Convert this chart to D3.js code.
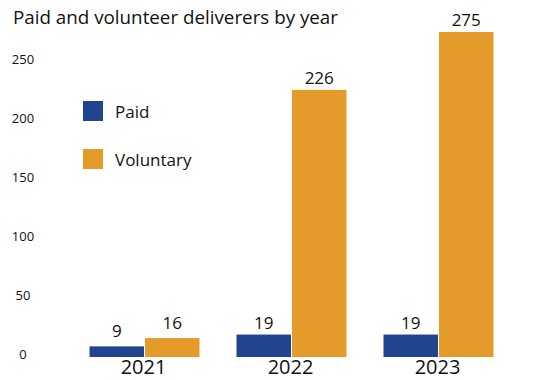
<!DOCTYPE html>
<html>
<head>
<meta charset="utf-8">
<script src="https://cdn.jsdelivr.net/npm/d3@7"></script>
<style>
  html, body { margin: 0; padding: 0; background: #fff; }
  svg { display: block; font-family: "Open Sans", "Noto Sans", sans-serif; }
</style>
</head>
<body>
<svg id="chart" width="560" height="380"></svg>
<script>
// Deliverers per year, split by paid and voluntary
const years = ["2021", "2022", "2023"];
const paid = [9, 19, 19];
const voluntary = [16, 226, 275];
const seriesNames = ["Paid", "Voluntary"];
const seriesColors = ["#21448f", "#e49b2a"];
const yTicks = [0, 50, 100, 150, 200, 250];

const svg = d3.select("#chart");

const x = d3.scaleBand().domain(years).range([71, 512]).paddingInner(0.245).paddingOuter(0.1225);
const xSub = d3.scaleBand().domain(seriesNames).range([0, x.bandwidth()]);
const y = d3.scaleLinear().domain([0, 275]).range([357, 32]);

const rows = years.map((yr, i) => ({ year: yr, values: [paid[i], voluntary[i]] }));

// Title
svg.append("text")
  .attr("x", 13).attr("y", 24)
  .attr("font-size", 18.8).attr("fill", "#111")
  .text("Paid and volunteer deliverers by year");

// Y tick labels (no axis line)
svg.append("g").selectAll("text").data(yTicks).join("text")
  .attr("x", 23).attr("y", d => y(d) - 1)
  .attr("text-anchor", "middle").attr("dominant-baseline", "middle")
  .attr("font-size", 13).attr("fill", "#111")
  .text(d => d);

// Bars
const groups = svg.append("g").selectAll("g").data(rows).join("g")
  .attr("transform", d => `translate(${x(d.year)},0)`);

groups.selectAll("rect").data(d => d.values.map((v, j) => ({ v, s: seriesNames[j], c: seriesColors[j] })))
  .join("rect")
  .attr("x", d => xSub(d.s) + 0.5)
  .attr("width", xSub.bandwidth() - 1)
  .attr("y", d => y(d.v))
  .attr("height", d => y(0) - y(d.v))
  .attr("fill", d => d.c);

// Value labels
groups.selectAll("text.val").data(d => d.values.map((v, j) => ({ v, s: seriesNames[j] })))
  .join("text").attr("class", "val")
  .attr("x", d => xSub(d.s) + xSub.bandwidth() / 2)
  .attr("y", d => y(d.v) - (d.v < 18 ? 9 : 6))
  .attr("text-anchor", "middle")
  .attr("font-size", 17).attr("fill", "#111")
  .text(d => d.v);

// Year labels
svg.append("g").selectAll("text").data(years).join("text")
  .attr("x", d => x(d) + x.bandwidth() / 2 - 1)
  .attr("y", 374)
  .attr("text-anchor", "middle")
  .attr("font-size", 20).attr("fill", "#111")
  .text(d => d);

// Legend
const legend = svg.append("g").selectAll("g").data(seriesNames).join("g")
  .attr("transform", (d, i) => `translate(83,${101 + i * 48})`);
legend.append("rect").attr("width", 20).attr("height", 20)
  .attr("fill", (d, i) => seriesColors[i]);
legend.append("text").attr("x", 32).attr("y", 17)
  .attr("font-size", 17).attr("fill", "#111")
  .text(d => d);
</script>
</body>
</html>
